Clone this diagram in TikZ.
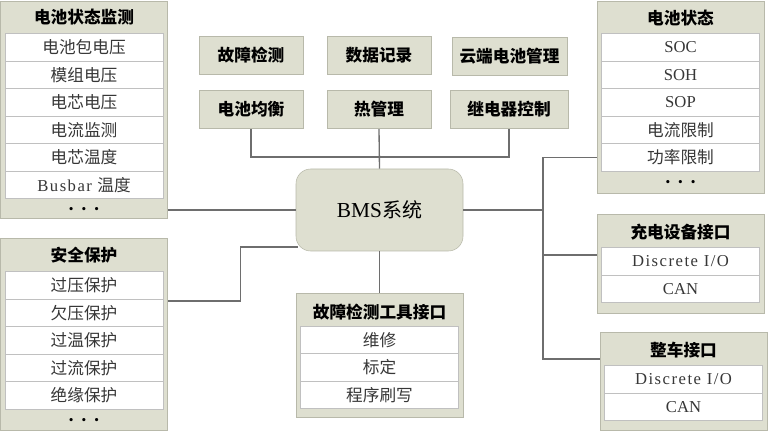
\documentclass[tikz,border=0pt]{standalone}
\usepackage{fontspec}
\setmainfont{Liberation Serif}
\newfontfamily\cjk{Noto Sans CJK SC}
\newfontfamily\lat{Liberation Serif}
\newfontfamily\latwide[LetterSpace=9]{Liberation Serif}
\usepackage{tikz}
\usetikzlibrary{positioning, calc}

\definecolor{boxfill}{RGB}{222,223,208}
\definecolor{boxedge}{RGB}{184,185,170}
\definecolor{rowedge}{RGB}{192,192,192}
\definecolor{wire}{RGB}{110,110,110}
\definecolor{rowtext}{RGB}{55,55,55}

\begin{document}
\begin{tikzpicture}[x=0.75pt, y=-0.75pt,
  grp/.style={rectangle, draw=boxedge, fill=boxfill, minimum width=125pt, inner sep=0pt},
  ttl/.style={font=\fontsize{12.5}{14}\selectfont\cjk\bfseries},
  row/.style={rectangle, draw=rowedge, fill=white, minimum width=118.5pt, minimum height=20.625pt, inner sep=0pt, text=rowtext, font=\fontsize{12.5}{14}\selectfont\cjk},
  dots/.style={font=\fontsize{10}{12}\selectfont},
  func/.style={rectangle, draw=boxedge, fill=boxfill, minimum width=78pt, minimum height=28.9pt, inner sep=0pt, font=\fontsize{12.5}{14}\selectfont\cjk\bfseries},
  core/.style={rectangle, rounded corners=11pt, draw=boxedge, fill=boxfill, minimum width=125.25pt, minimum height=61.5pt, font=\fontsize{15}{18}\selectfont\cjk},
  wirestyle/.style={draw=wire, line width=1pt}
]
  \useasboundingbox (0,0) rectangle (768,431);

  % Centre
  \node[core] (bms) at (379.5,210) {{\lat\fontsize{16}{18}\selectfont BMS}系统};

  % Function boxes
  \node[func] (detect) at (251,55.5) {故障检测};
  \node[func] (record) at (379,55.5) {数据记录};
  \node[func, minimum width=86.25pt] (cloud) at (509.5,56.5) {云端电池管理};
  \node[func] (balance) at (251,109.5) {电池均衡};
  \node[func] (thermal) at (379,109.5) {热管理};
  \node[func, minimum width=88.5pt] (relay) at (509,109.5) {继电器控制};

  % Battery monitoring
  \node[grp, minimum height=162.75pt] (mon) at (84,109.5) {};
  \node[ttl] (mon-t) at (84,17) {电池状态监测};
  \node[row] (mon1) at (84,47.25) {电池包电压};
  \node[row] (mon2) at (84,74.75) {模组电压};
  \node[row] (mon3) at (84,102.25) {电芯电压};
  \node[row] (mon4) at (84,129.75) {电流监测};
  \node[row] (mon5) at (84,157.25) {电芯温度};
  \node[row] (mon6) at (84,184.75) {{\latwide Busbar}\hspace{4pt}温度};
  \node[dots] (mon-d) at (84,210) {•\hspace{6pt}•\hspace{6pt}•};

  % Safety protection
  \node[grp, minimum height=144pt] (safe) at (84,334) {};
  \node[ttl] (safe-t) at (84,255) {安全保护};
  \node[row] (safe1) at (84,285.5) {过压保护};
  \node[row] (safe2) at (84,313) {欠压保护};
  \node[row] (safe3) at (84,340.5) {过温保护};
  \node[row] (safe4) at (84,368) {过流保护};
  \node[row] (safe5) at (84,395.5) {绝缘保护};
  \node[dots] (safe-d) at (84,421.5) {•\hspace{6pt}•\hspace{6pt}•};

  % Battery state
  \node[grp, minimum height=144pt] (state) at (680.5,97) {};
  \node[ttl] (state-t) at (680.5,18) {电池状态};
  \node[row] (state1) at (680.5,47.25) {\lat SOC};
  \node[row] (state2) at (680.5,74.75) {\lat SOH};
  \node[row] (state3) at (680.5,102.25) {\lat SOP};
  \node[row] (state4) at (680.5,129.75) {电流限制};
  \node[row] (state5) at (680.5,157.25) {功率限制};
  \node[dots] (state-d) at (680.5,183) {•\hspace{6pt}•\hspace{6pt}•};

  % Charger interface
  \node[grp, minimum height=74.25pt] (charge) at (680.5,263.5) {};
  \node[ttl] (charge-t) at (680.5,232) {充电设备接口};
  \node[row] (charge1) at (680.5,261.5) {\latwide Discrete I/O};
  \node[row] (charge2) at (680.5,289) {\lat CAN};

  % Vehicle interface
  \node[grp, minimum height=73.5pt] (veh) at (683.5,381) {};
  \node[ttl] (veh-t) at (683.5,350) {整车接口};
  \node[row] (veh1) at (683.5,379.5) {\latwide Discrete I/O};
  \node[row] (veh2) at (683.5,407) {\lat CAN};

  % Diagnostic tool interface
  \node[grp, minimum height=93pt] (tool) at (379.5,355) {};
  \node[ttl] (tool-t) at (379.5,312) {故障检测工具接口};
  \node[row] (tool1) at (379.5,340) {维修};
  \node[row] (tool2) at (379.5,367.5) {标定};
  \node[row] (tool3) at (379.5,395) {程序刷写};

  % Connectors
  \coordinate (bus) at (379,157);
  \coordinate (trunk) at (543,210);
  \draw[wirestyle] (balance.south) |- (bus) -| (relay.south);
  \draw[wirestyle] (thermal.south) -- (bms.north);
  \draw[wirestyle] (bms.south) -- (tool.north);
  \draw[wirestyle] (bms.west) -- (bms.west -| mon.east);
  \draw[wirestyle] ($(bms.west)+(2,37)$) -- ++(-57,0) |- ($(safe.east)+(0,-33)$);
  \draw[wirestyle] (bms.east) -- (trunk);
  \draw[wirestyle] (state5 -| state.west) -| (trunk);
  \draw[wirestyle] ($(charge.west)+(0,-8.5)$) -| (trunk);
  \draw[wirestyle] ($(veh.west)+(0,-22)$) -| (trunk);
\end{tikzpicture}
\end{document}
